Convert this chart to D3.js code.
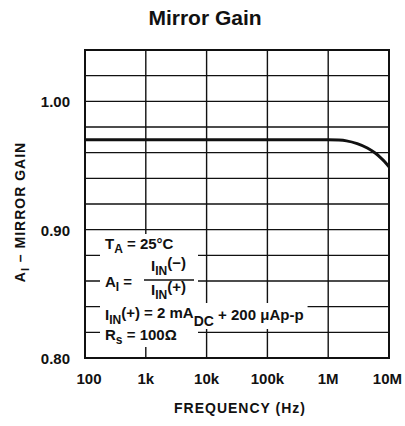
<!DOCTYPE html>
<html>
<head>
<meta charset="utf-8">
<script src="https://cdn.jsdelivr.net/npm/d3@7"></script>
<style>
  body { margin: 0; background: #fff; }
  text { font-family: "Liberation Sans", Arial, sans-serif; font-weight: bold; fill: #111; }
</style>
</head>
<body>
<div id="chart"></div>
<script>
// frequency (Hz) vs mirror gain
const freq = [100, 1e3, 1e4, 1e5, 1e6, 1.5e6, 2e6, 3e6, 4.4e6, 6e6, 7.1e6, 8.5e6, 1e7];
const gain = [0.970, 0.970, 0.970, 0.970, 0.970, 0.9698, 0.9692, 0.967, 0.9636, 0.9595, 0.9566, 0.953, 0.949];

const xTicks = [100, 1e3, 1e4, 1e5, 1e6, 1e7];
const xTickLabels = ["100", "1k", "10k", "100k", "1M", "10M"];
const yGrid = d3.range(0, 13).map((i) => 0.8 + i * 0.02);
const yTicks = [0.8, 0.9, 1.0];
const yTickLabels = ["0.80", "0.90", "1.00"];

const W = 405, H = 426;
const m = { left: 85, top: 50, right: 16, bottom: 68 };

const svg = d3.select("#chart").append("svg").attr("width", W).attr("height", H);

const x = d3.scaleLog().domain([100, 1e7]).range([m.left, W - m.right]);
const y = d3.scaleLinear().domain([0.8, 1.04]).range([H - m.bottom, m.top]);

// grid
svg.append("g")
  .selectAll("line")
  .data(yGrid)
  .join("line")
  .attr("x1", m.left).attr("x2", W - m.right)
  .attr("y1", (d) => y(d)).attr("y2", (d) => y(d))
  .attr("stroke", "#111").attr("stroke-width", 1.4);

svg.append("g")
  .selectAll("line")
  .data(xTicks)
  .join("line")
  .attr("x1", (d) => x(d)).attr("x2", (d) => x(d))
  .attr("y1", m.top).attr("y2", H - m.bottom)
  .attr("stroke", "#111").attr("stroke-width", 1.4);

// legend block (white box over the grid)
const leg = svg.append("g");
const bg = leg.append("g");
const txt = leg.append("g").style("font-size", "15px");

function sub(t, s, main) {
  t.append("tspan").text(main);
  t.append("tspan").attr("dy", 4).style("font-size", "12px").text(s);
}

const t1 = txt.append("text").attr("x", 105).attr("y", 249);
sub(t1, "A", "T");
t1.append("tspan").attr("dy", -4).text(" = 25°C");

const t2 = txt.append("text").attr("x", 105).attr("y", 287);
sub(t2, "I", "A");
t2.append("tspan").attr("dy", -4).text(" =");

const t3 = txt.append("text").attr("x", 151).attr("y", 271);
sub(t3, "IN", "I");
t3.append("tspan").attr("dy", -7).text("(−)");

const t4 = txt.append("text").attr("x", 151).attr("y", 295);
sub(t4, "IN", "I");
t4.append("tspan").attr("dy", -7).text("(+)");

const t5 = txt.append("text").attr("x", 105).attr("y", 320);
sub(t5, "IN", "I");
t5.append("tspan").attr("dy", -6).text("(+) = 2 mA");
t5.append("tspan").attr("dy", 8).style("font-size", "14px").text("DC");
t5.append("tspan").attr("dy", -6).text(" + 200 μAp-p");

const t6 = txt.append("text").attr("x", 105).attr("y", 340);
sub(t6, "s", "R");
t6.append("tspan").attr("dy", -4).text(" = 100Ω");

[t1, t2, t3, t4, t5, t6].forEach((t) => {
  const b = t.node().getBBox();
  bg.append("rect")
    .attr("x", b.x - 5).attr("y", b.y - 1)
    .attr("width", b.width + 9).attr("height", b.height + 1)
    .attr("fill", "#fff");
});
bg.append("rect").attr("x", 100).attr("y", 236).attr("width", 98).attr("height", 108).attr("fill", "#fff");

txt.append("line")
  .attr("x1", 144).attr("x2", 194).attr("y1", 280).attr("y2", 280)
  .attr("stroke", "#111").attr("stroke-width", 1.5);

// curve
const pts = freq.map((f, i) => [f, gain[i]]);
svg.append("path")
  .datum(pts)
  .attr("fill", "none")
  .attr("stroke", "#111")
  .attr("stroke-width", 3)
  .attr("d", d3.line().x((d) => x(d[0])).y((d) => y(d[1])).curve(d3.curveMonotoneX));

// frame
svg.append("rect")
  .attr("x", m.left).attr("y", m.top)
  .attr("width", W - m.right - m.left).attr("height", H - m.bottom - m.top)
  .attr("fill", "none").attr("stroke", "#111").attr("stroke-width", 2);

// tick labels
svg.append("g")
  .selectAll("text")
  .data(xTicks)
  .join("text")
  .attr("x", (d) => x(d) + (d === 100 ? 4 : 0))
  .attr("y", 384)
  .attr("text-anchor", (d) => (d === 1e7 ? "end" : "middle"))
  .attr("dx", (d) => (d === 1e7 ? 13 : 0))
  .style("font-size", "15px")
  .text((d, i) => xTickLabels[i]);

svg.append("g")
  .selectAll("text")
  .data(yTicks)
  .join("text")
  .attr("x", 70)
  .attr("y", (d) => y(d) + 6)
  .attr("text-anchor", "end")
  .style("font-size", "15px")
  .text((d, i) => yTickLabels[i]);

// titles
svg.append("text")
  .attr("x", 205).attr("y", 25)
  .attr("text-anchor", "middle")
  .style("font-size", "21px")
  .text("Mirror Gain");

svg.append("text")
  .attr("x", 240).attr("y", 413)
  .attr("text-anchor", "middle")
  .style("font-size", "14px")
  .style("letter-spacing", "1px")
  .text("FREQUENCY (Hz)");

const yl = svg.append("text")
  .attr("transform", "translate(25,212) rotate(-90)")
  .attr("text-anchor", "middle")
  .style("font-size", "14px")
  .style("letter-spacing", "1px");
yl.append("tspan").text("A");
yl.append("tspan").attr("dy", 4).style("font-size", "11px").text("I");
yl.append("tspan").attr("dy", -4).text(" – MIRROR GAIN");
</script>
</body>
</html>
